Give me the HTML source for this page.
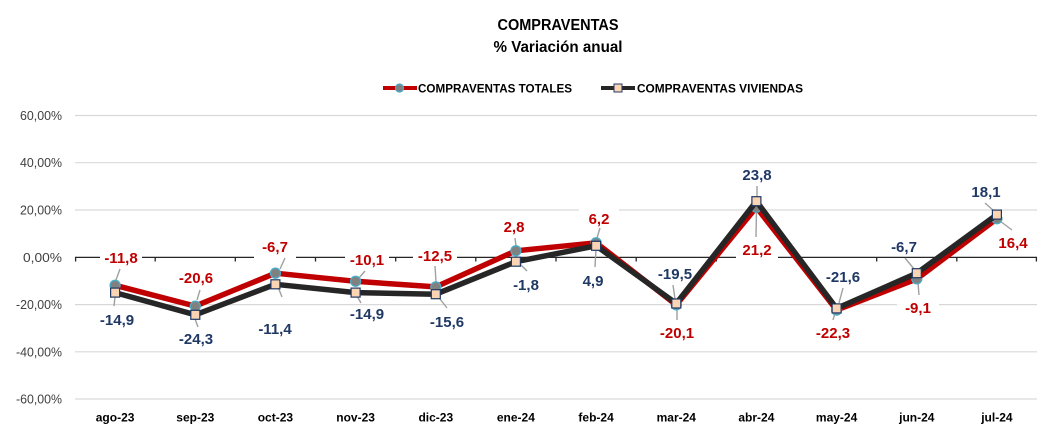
<!DOCTYPE html>
<html><head><meta charset="utf-8"><style>
html,body{margin:0;padding:0;background:#fff;}
svg{display:block;}
text{font-family:"Liberation Sans",sans-serif;}
</style></head><body>
<svg width="1064" height="433" viewBox="0 0 1064 433" xmlns="http://www.w3.org/2000/svg">
<rect width="1064" height="433" fill="#fff"/>
<!-- title -->
<text x="558" y="30" font-size="15.5" font-weight="bold" text-anchor="middle" fill="#000" textLength="121" lengthAdjust="spacingAndGlyphs">COMPRAVENTAS</text>
<text x="558" y="52" font-size="15.5" font-weight="bold" text-anchor="middle" fill="#000" textLength="129" lengthAdjust="spacingAndGlyphs">% Variación anual</text>
<!-- legend -->
<line x1="383" y1="88" x2="417" y2="88" stroke="#c00000" stroke-width="4"/>
<circle cx="399.5" cy="88" r="4" fill="#808080" stroke="#4bacc6" stroke-width="1.2"/>
<text x="418" y="92.5" font-size="12" font-weight="bold" fill="#000" textLength="154" lengthAdjust="spacingAndGlyphs">COMPRAVENTAS TOTALES</text>
<line x1="601" y1="88" x2="635" y2="88" stroke="#262626" stroke-width="4"/>
<rect x="614" y="84" width="8" height="8" fill="#fbd4b4" stroke="#1f3864" stroke-width="1"/>
<text x="637" y="92.5" font-size="12" font-weight="bold" fill="#000" textLength="166" lengthAdjust="spacingAndGlyphs">COMPRAVENTAS VIVIENDAS</text>
<!-- gridlines -->
<g stroke="#d9d9d9" stroke-width="1.2">
<line x1="75" y1="115.5" x2="1037" y2="115.5"/>
<line x1="75" y1="162.7" x2="1037" y2="162.7"/>
<line x1="75" y1="210" x2="1037" y2="210"/>
<line x1="75" y1="304.6" x2="1037" y2="304.6"/>
<line x1="75" y1="351.8" x2="1037" y2="351.8"/>
<line x1="75" y1="399" x2="1037" y2="399"/>
</g>
<!-- y labels -->
<g font-size="13" fill="#404040" text-anchor="end">
<text x="62" y="120" textLength="42" lengthAdjust="spacingAndGlyphs">60,00%</text>
<text x="62" y="167.2" textLength="42" lengthAdjust="spacingAndGlyphs">40,00%</text>
<text x="62" y="214.5" textLength="42" lengthAdjust="spacingAndGlyphs">20,00%</text>
<text x="62" y="262" textLength="39" lengthAdjust="spacingAndGlyphs">0,00%</text>
<text x="62" y="309" textLength="46" lengthAdjust="spacingAndGlyphs">-20,00%</text>
<text x="62" y="356.3" textLength="46" lengthAdjust="spacingAndGlyphs">-40,00%</text>
<text x="62" y="403.5" textLength="46" lengthAdjust="spacingAndGlyphs">-60,00%</text>
</g>
<!-- zero axis -->
<line x1="75" y1="257.4" x2="1037" y2="257.4" stroke="#262626" stroke-width="1.3"/>
<g stroke="#262626" stroke-width="1.3">
<line x1="75.6" y1="257" x2="75.6" y2="261.5"/>
<line x1="155.2" y1="257" x2="155.2" y2="261.5"/>
<line x1="235.3" y1="257" x2="235.3" y2="261.5"/>
<line x1="315.5" y1="257" x2="315.5" y2="261.5"/>
<line x1="395.7" y1="257" x2="395.7" y2="261.5"/>
<line x1="475.8" y1="257" x2="475.8" y2="261.5"/>
<line x1="556" y1="257" x2="556" y2="261.5"/>
<line x1="636.2" y1="257" x2="636.2" y2="261.5"/>
<line x1="716.3" y1="257" x2="716.3" y2="261.5"/>
<line x1="796.5" y1="257" x2="796.5" y2="261.5"/>
<line x1="876.7" y1="257" x2="876.7" y2="261.5"/>
<line x1="956.8" y1="257" x2="956.8" y2="261.5"/>
<line x1="1036.4" y1="257" x2="1036.4" y2="261.5"/>
</g>
<!-- x labels -->
<g font-size="12" font-weight="bold" fill="#000" text-anchor="middle">
<text x="115.1" y="421.5">ago-23</text>
<text x="195.3" y="421.5">sep-23</text>
<text x="275.4" y="421.5">oct-23</text>
<text x="355.6" y="421.5">nov-23</text>
<text x="435.8" y="421.5">dic-23</text>
<text x="515.9" y="421.5">ene-24</text>
<text x="596.1" y="421.5">feb-24</text>
<text x="676.3" y="421.5">mar-24</text>
<text x="756.4" y="421.5">abr-24</text>
<text x="836.6" y="421.5">may-24</text>
<text x="916.8" y="421.5">jun-24</text>
<text x="996.9" y="421.5">jul-24</text>
</g>
<!-- label backgrounds -->
<g fill="#fff">
<rect x="100" y="248" width="42" height="20"/>
<rect x="254" y="237" width="42" height="21"/>
<rect x="345" y="250" width="44" height="20"/>
<rect x="413" y="246" width="44" height="20"/>
<rect x="579" y="209" width="40" height="20"/>
<rect x="736" y="240" width="42" height="20"/>
<rect x="897" y="298" width="42" height="20"/>
</g>
<!-- leader lines -->
<g stroke="#a0a0a0" stroke-width="1.4" fill="none">
<line x1="120" y1="269" x2="116" y2="280"/>
<line x1="115" y1="297" x2="114" y2="306"/>
<line x1="200" y1="290" x2="197" y2="300"/>
<line x1="195" y1="319" x2="198" y2="327"/>
<line x1="285" y1="258" x2="280" y2="269"/>
<line x1="278" y1="287" x2="282" y2="297"/>
<line x1="365" y1="271" x2="359" y2="278"/>
<line x1="357" y1="296" x2="361" y2="303"/>
<line x1="435" y1="266" x2="436" y2="282"/>
<line x1="440" y1="299" x2="447" y2="308"/>
<line x1="515" y1="238" x2="516" y2="246"/>
<line x1="520" y1="264" x2="527" y2="271"/>
<line x1="600" y1="228" x2="597" y2="238"/>
<line x1="596" y1="249" x2="595" y2="267"/>
<line x1="677" y1="308" x2="677" y2="320"/>
<line x1="673" y1="285" x2="675" y2="299"/>
<line x1="756.5" y1="210" x2="756" y2="237"/>
<line x1="757" y1="186" x2="757" y2="197"/>
<line x1="835" y1="313" x2="833" y2="320"/>
<line x1="843" y1="288" x2="839" y2="303"/>
<line x1="918" y1="283" x2="919" y2="295"/>
<line x1="905" y1="258" x2="914" y2="269"/>
<line x1="1000" y1="221" x2="1012" y2="230"/>
<line x1="985" y1="203" x2="994" y2="211"/>
</g>
<!-- series totales -->
<polyline fill="none" stroke="#c00000" stroke-width="5.5" stroke-linejoin="round" points="115.1,285.3 195.3,306.1 275.4,273.2 355.6,281.3 435.8,286.9 515.9,250.8 596.1,242.8 676.3,304.9 756.4,207.3 836.6,310.1 916.8,278.9 996.9,218.7"/>
<g fill="#808080" stroke="#4bacc6" stroke-width="1.3">
<circle cx="115.1" cy="285.3" r="5"/>
<circle cx="195.3" cy="306.1" r="5"/>
<circle cx="275.4" cy="273.2" r="5"/>
<circle cx="355.6" cy="281.3" r="5"/>
<circle cx="435.8" cy="286.9" r="5"/>
<circle cx="515.9" cy="250.8" r="5"/>
<circle cx="596.1" cy="242.8" r="5"/>
<circle cx="676.3" cy="304.9" r="5"/>
<circle cx="756.4" cy="207.3" r="5"/>
<circle cx="836.6" cy="310.1" r="5"/>
<circle cx="916.8" cy="278.9" r="5"/>
<circle cx="996.9" cy="218.7" r="5"/>
</g>
<!-- series viviendas -->
<polyline fill="none" stroke="#262626" stroke-width="5.5" stroke-linejoin="round" points="115.1,292.6 195.3,314.8 275.4,284.3 355.6,292.6 435.8,294.2 515.9,261.7 596.1,245.8 676.3,303.5 756.4,201.2 836.6,308.4 916.8,273.2 996.9,214.6"/>
<g fill="#fbd4b4" stroke="#1f3864" stroke-width="1.2">
<rect x="110.6" y="288.1" width="9" height="9"/>
<rect x="190.8" y="310.3" width="9" height="9"/>
<rect x="270.9" y="279.8" width="9" height="9"/>
<rect x="351.1" y="288.1" width="9" height="9"/>
<rect x="431.3" y="289.7" width="9" height="9"/>
<rect x="511.4" y="257.2" width="9" height="9"/>
<rect x="591.6" y="241.3" width="9" height="9"/>
<rect x="671.8" y="299" width="9" height="9"/>
<rect x="751.9" y="196.7" width="9" height="9"/>
<rect x="832.1" y="303.9" width="9" height="9"/>
<rect x="912.3" y="268.7" width="9" height="9"/>
<rect x="992.4" y="210.1" width="9" height="9"/>
</g>
<!-- data labels totales -->
<g font-size="15" font-weight="bold" fill="#c00000" text-anchor="middle">
<text x="121" y="263">-11,8</text>
<text x="196" y="283">-20,6</text>
<text x="275" y="252">-6,7</text>
<text x="367" y="265">-10,1</text>
<text x="435" y="261">-12,5</text>
<text x="514" y="232">2,8</text>
<text x="599" y="224">6,2</text>
<text x="677" y="338">-20,1</text>
<text x="757" y="255">21,2</text>
<text x="833" y="338">-22,3</text>
<text x="918" y="313">-9,1</text>
<text x="1013" y="248">16,4</text>
</g>
<!-- data labels viviendas -->
<g font-size="15" font-weight="bold" fill="#1f3864" text-anchor="middle">
<text x="117" y="325">-14,9</text>
<text x="196" y="344">-24,3</text>
<text x="275" y="334">-11,4</text>
<text x="367" y="319">-14,9</text>
<text x="447" y="327">-15,6</text>
<text x="526" y="290">-1,8</text>
<text x="593" y="286">4,9</text>
<text x="675" y="279">-19,5</text>
<text x="757" y="180">23,8</text>
<text x="843" y="282">-21,6</text>
<text x="904" y="252">-6,7</text>
<text x="986" y="197">18,1</text>
</g>
</svg>
</body></html>
